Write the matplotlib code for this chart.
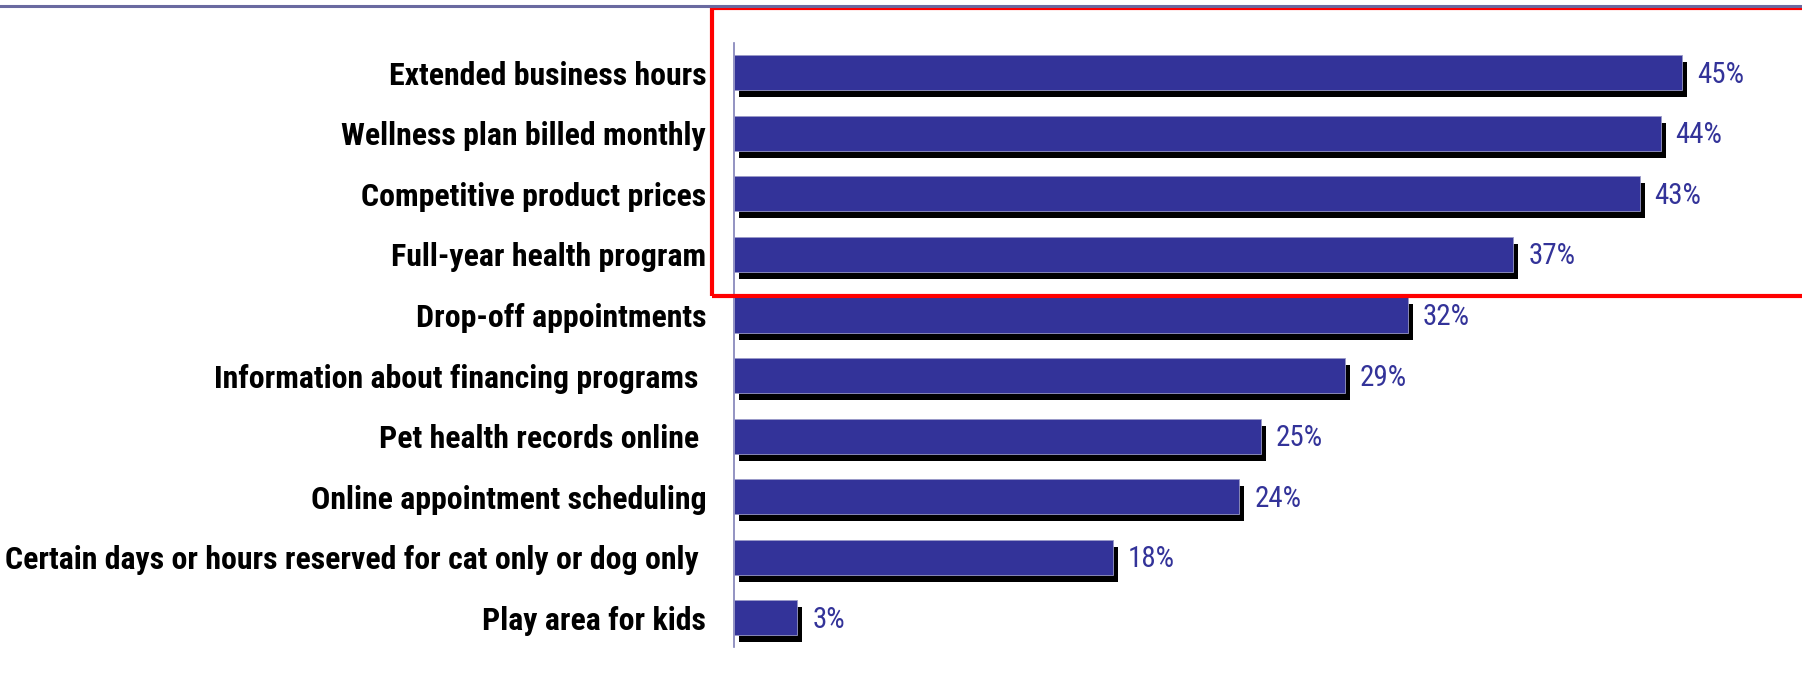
import matplotlib
matplotlib.use("Agg")
import matplotlib.pyplot as plt
from matplotlib import font_manager
from matplotlib.patches import Rectangle
from matplotlib.lines import Line2D

# podatki
categories = [
    "Extended business hours",
    "Wellness plan billed monthly",
    "Competitive product prices",
    "Full-year health program",
    "Drop-off appointments",
    "Information about financing programs ",
    "Pet health records online ",
    "Online appointment scheduling",
    "Certain days or hours reserved for cat only or dog only ",
    "Play area for kids",
]
values = [45, 44, 43, 37, 32, 29, 25, 24, 18, 3]
value_labels = ["45%", "44%", "43%", "37%", "32%", "29%", "25%", "24%", "18%", "3%"]

# ozka pisava (podobna Arial Narrow), če je na voljo
available = {f.name for f in font_manager.fontManager.ttflist}
family = "DejaVu Sans"
for cand in ["Liberation Sans Narrow", "Arial Narrow", "Roboto Condensed",
             "PT Sans Narrow", "Barlow Semi Condensed", "Asap Condensed"]:
    if cand in available:
        family = cand
        break
plt.rcParams['font.family'] = [family, 'DejaVu Sans']

bar_color = "#333399"
W, H = 1802, 680

fig = plt.figure(figsize=(W / 100, H / 100), dpi=100)
ax = fig.add_axes([734 / W, 1 - 647 / H, 1053 / W, 604 / H])

pos = list(range(len(categories)))
bar_h = 0.58

# senca pod stolpci
ax.barh([p + 0.115 for p in pos], values, height=bar_h, left=0.24,
        color="black", zorder=2)
ax.barh(pos, values, height=bar_h, color=bar_color,
        edgecolor="#9a9ac8", linewidth=0.6, zorder=3)

ax.set_xlim(0, 50)
ax.set_ylim(9.48, -0.49)
ax.set_yticks(pos)
ax.set_yticklabels(categories, fontsize=22, fontweight="bold")
ax.tick_params(axis="y", length=0, pad=20)
ax.set_xticks([])
for s in ["top", "right", "bottom"]:
    ax.spines[s].set_visible(False)
ax.spines["left"].set_color("#8080b8")
ax.spines["left"].set_linewidth(1.2)

# prilagodi velikost, da je najdaljši napis širok ~690 px
renderer = fig.canvas.get_renderer()
probe = fig.text(0, 0, categories[8].strip(), fontsize=22, fontweight="bold")
w = probe.get_window_extent(renderer).width
probe.remove()
lab_size = min(26, 22 * 692 / w)
for t in ax.get_yticklabels():
    t.set_fontsize(lab_size)

probe = fig.text(0, 0, "45%", fontsize=20)
w = probe.get_window_extent(renderer).width
probe.remove()
val_size = min(26, 20 * 47 / w)

for p, v, lab in zip(pos, values, value_labels):
    ax.annotate(lab, (v, p), xytext=(15, -2), textcoords="offset pixels",
                ha="left", va="center", fontsize=val_size, color=bar_color)

# zgornja črta in rdeč okvir
fig.add_artist(Line2D([0, 1], [1 - 6 / H, 1 - 6 / H], color="#6a6aa0",
                      linewidth=2.2, transform=fig.transFigure))
fig.add_artist(Rectangle((712 / W, 1 - 296 / H), 1200 / W, 288 / H,
                         fill=False, edgecolor="#ff0000", linewidth=3,
                         transform=fig.transFigure, clip_on=False))

fig.savefig("out.png", dpi=100)
